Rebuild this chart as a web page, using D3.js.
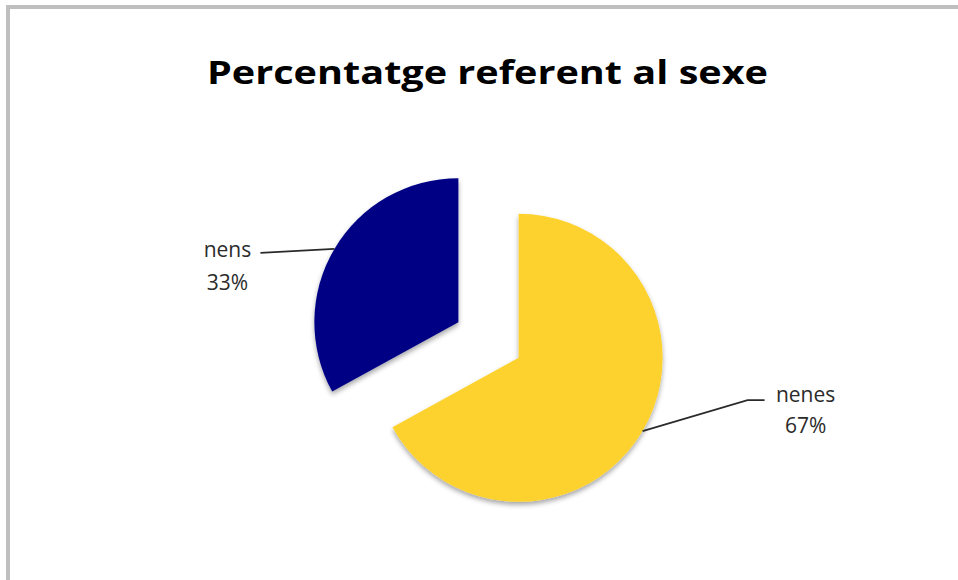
<!DOCTYPE html>
<html>
<head>
<meta charset="utf-8">
<style>
body { margin: 0; background: #fff; }
svg { display: block; }
</style>
<script src="https://d3js.org/d3.v7.min.js"></script>
</head>
<body>
<svg id="chart" width="958" height="580"></svg>
<script>
// data
var categories = ["nenes", "nens"];
var values = [67, 33];
var colors = ["#FED22F", "#000085"];
var title = "Percentatge referent al sexe";

var width = 958, height = 580;
var cx = 488.5, cy = 340, radius = 144, explode = 35;

// label leader layout, offsets from the point on the arc
var leaders = {
  "nenes": { pts: [[105, -31], [122, -31]], text: [163, -29], lineGap: 31 },
  "nens":  { pts: [[-74, 4]], text: [-107, 8], lineGap: 33 }
};

var svg = d3.select("#chart");

var defs = svg.append("defs");
var f = defs.append("filter").attr("id", "shadow")
  .attr("x", "-20%").attr("y", "-20%").attr("width", "140%").attr("height", "140%");
f.append("feDropShadow")
  .attr("dx", 0).attr("dy", 3).attr("stdDeviation", 2.5)
  .attr("flood-color", "#000").attr("flood-opacity", 0.35);

// frame
svg.append("rect")
  .attr("x", 8).attr("y", 7)
  .attr("width", 1200).attr("height", 1000)
  .attr("fill", "none")
  .attr("stroke", "#bfbfbf")
  .attr("stroke-width", 4);

svg.append("text")
  .attr("x", 487.5).attr("y", 84)
  .attr("text-anchor", "middle")
  .attr("font-family", "Open Sans, sans-serif")
  .attr("font-weight", "bold")
  .attr("font-size", 32)
  .attr("textLength", 561)
  .attr("lengthAdjust", "spacingAndGlyphs")
  .attr("fill", "#000")
  .text(title);

var data = categories.map(function(c, i) { return { name: c, value: values[i], color: colors[i] }; });

var pie = d3.pie().sort(null).value(function(d) { return d.value; });
var arc = d3.arc().innerRadius(0).outerRadius(radius);

var arcs = pie(data);

var slices = svg.append("g").attr("transform", "translate(" + cx + "," + cy + ")");

arcs.forEach(function(a) {
  var mid = (a.startAngle + a.endAngle) / 2;
  a.ox = Math.sin(mid) * explode;
  a.oy = -Math.cos(mid) * explode;
  a.ex = a.ox + Math.sin(mid) * radius;
  a.ey = a.oy - Math.cos(mid) * radius;
});

slices.selectAll("path.slice")
  .data(arcs)
  .enter()
  .append("path")
  .attr("class", "slice")
  .attr("d", arc)
  .attr("transform", function(d) { return "translate(" + d.ox + "," + d.oy + ")"; })
  .attr("fill", function(d) { return d.data.color; })
  .attr("filter", "url(#shadow)");

var line = d3.line();

slices.selectAll("path.leader")
  .data(arcs)
  .enter()
  .append("path")
  .attr("class", "leader")
  .attr("fill", "none")
  .attr("stroke", "#2a2a2a")
  .attr("stroke-width", 1.6)
  .attr("d", function(d) {
    var L = leaders[d.data.name];
    var p = [[d.ex, d.ey]].concat(L.pts.map(function(q) { return [d.ex + q[0], d.ey + q[1]]; }));
    return line(p);
  });

var labels = slices.selectAll("text.lbl")
  .data(arcs)
  .enter()
  .append("text")
  .attr("class", "lbl")
  .attr("text-anchor", "middle")
  .attr("font-family", "Open Sans, sans-serif")
  .attr("font-size", 21)
  .attr("fill", "#2b2b2b")
  .attr("x", function(d) { return d.ex + leaders[d.data.name].text[0]; })
  .attr("y", function(d) { return d.ey + leaders[d.data.name].text[1]; });

labels.append("tspan")
  .attr("x", function(d) { return d.ex + leaders[d.data.name].text[0]; })
  .text(function(d) { return d.data.name; });
labels.append("tspan")
  .attr("x", function(d) { return d.ex + leaders[d.data.name].text[0]; })
  .attr("dy", function(d) { return leaders[d.data.name].lineGap; })
  .text(function(d) { return d.data.value + "%"; });
</script>
</body>
</html>
